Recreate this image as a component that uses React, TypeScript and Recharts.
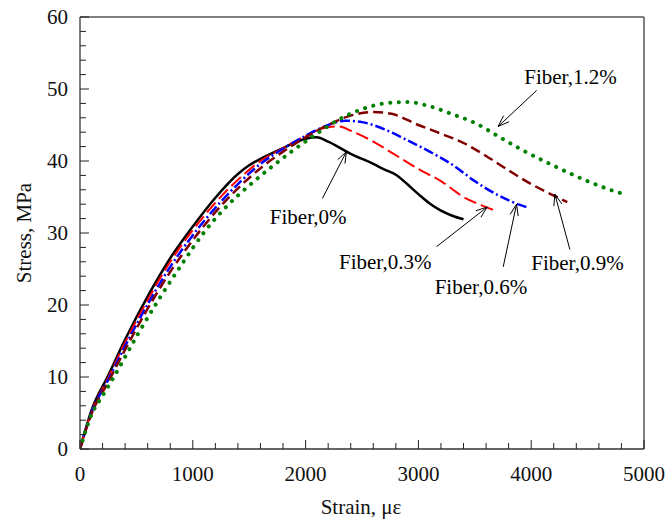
import { LineChart, Line, XAxis, YAxis, ReferenceLine, ReferenceDot } from "recharts";

// strain (με) and stress (MPa)
const strain0 = [0, 100, 250, 400, 600, 800, 1000, 1200, 1400, 1500, 1600, 1800, 2000, 2100, 2200, 2400, 2600, 2700, 2800, 2900, 3000, 3100, 3200, 3300, 3400];
const stress0 = [0, 5.3, 10.2, 15.2, 21.2, 26.5, 30.9, 34.9, 38.2, 39.4, 40.3, 41.8, 43.1, 43.3, 42.7, 41.0, 39.6, 38.8, 38.1, 36.8, 35.4, 34.1, 33.1, 32.4, 31.9];

const strain03 = [0, 100, 250, 400, 600, 800, 1000, 1200, 1400, 1600, 1800, 2000, 2200, 2300, 2400, 2600, 2800, 3000, 3200, 3400, 3600, 3700];
const stress03 = [0, 5.1, 9.9, 14.8, 20.7, 26.0, 30.4, 34.2, 37.4, 40.0, 41.8, 43.5, 44.7, 44.8, 44.2, 42.7, 40.8, 38.9, 37.2, 35.0, 33.6, 33.0];

const strain06 = [0, 100, 250, 400, 600, 800, 1000, 1200, 1400, 1600, 1800, 2000, 2200, 2350, 2500, 2700, 2900, 3100, 3300, 3500, 3700, 3900, 3980];
const stress06 = [0, 5.0, 9.6, 14.3, 20.1, 25.3, 29.7, 33.5, 36.8, 39.6, 41.7, 43.5, 45.0, 45.6, 45.4, 44.4, 42.9, 41.3, 39.5, 37.2, 35.3, 33.9, 33.5];

const strain09 = [0, 100, 250, 400, 600, 800, 1000, 1200, 1400, 1600, 1800, 2000, 2200, 2400, 2600, 2750, 3000, 3200, 3400, 3600, 3800, 4000, 4200, 4320];
const stress09 = [0, 4.8, 9.3, 13.8, 19.5, 24.6, 29.0, 32.9, 36.2, 39.0, 41.3, 43.3, 45.0, 46.3, 46.8, 46.6, 45.0, 43.8, 42.5, 40.7, 38.7, 36.8, 35.2, 34.3];

const strain12 = [0, 100, 200, 300, 500, 700, 900, 1100, 1300, 1500, 1700, 1900, 2100, 2300, 2500, 2700, 2900, 3100, 3300, 3500, 3700, 3900, 4100, 4300, 4500, 4700, 4820];
const stress12 = [0, 4.7, 7.4, 10.0, 15.6, 20.8, 25.6, 30.1, 33.7, 36.6, 39.2, 41.6, 43.8, 45.8, 47.2, 48.0, 48.2, 47.6, 46.5, 45.3, 43.5, 41.7, 40.1, 38.6, 37.2, 36.0, 35.4];

const xMajor = [0, 1000, 2000, 3000, 4000, 5000];
const yMajor = [0, 10, 20, 30, 40, 50, 60];

const toPoints = (xs: number[], ys: number[]) => xs.map((x, i) => ({ strain: x, stress: ys[i] }));

const series = [
  { name: "Fiber,0%", data: toPoints(strain0, stress0), color: "#000000", width: 2.5, dash: undefined, cap: "butt" },
  { name: "Fiber,0.3%", data: toPoints(strain03, stress03), color: "#ff0000", width: 2, dash: "13 5", cap: "butt" },
  { name: "Fiber,0.6%", data: toPoints(strain06, stress06), color: "#0000ff", width: 2.5, dash: "10 3 2 3", cap: "butt" },
  { name: "Fiber,0.9%", data: toPoints(strain09, stress09), color: "#800000", width: 2.5, dash: "10 5", cap: "butt" },
  { name: "Fiber,1.2%", data: toPoints(strain12, stress12), color: "#008000", width: 4, dash: "0.1 8.5", cap: "round" },
];

// annotation: label centre, arrow tail, arrow tip (data units)
const notes = [
  { text: "Fiber,0%", tx: 2023, ty: 32.2, x1: 2149, y1: 34.8, x2: 2362, y2: 41.3 },
  { text: "Fiber,0.3%", tx: 2706, ty: 26.0, x1: 3161, y1: 28.1, x2: 3610, y2: 33.6 },
  { text: "Fiber,0.6%", tx: 3554, ty: 22.5, x1: 3752, y1: 25.3, x2: 3870, y2: 34.0 },
  { text: "Fiber,0.9%", tx: 4410, ty: 25.9, x1: 4343, y1: 27.7, x2: 4210, y2: 35.4 },
  { text: "Fiber,1.2%", tx: 4348, ty: 51.7, x1: 4048, y1: 49.8, x2: 3707, y2: 44.8 },
];

const FONT = "'Liberation Serif', 'Times New Roman', serif";
const range = (a: number, b: number, s: number) => Array.from({ length: Math.round((b - a) / s) + 1 }, (_, i) => a + i * s);
const xTicks = range(0, 5000, 200);
const yTicks = range(0, 60, 2);

const XTick = (p: any) => {
  const v = p.payload.value;
  const major = xMajor.includes(v);
  return (
    <g>
      <line x1={p.x} x2={p.x} y1={p.y} y2={p.y - (major ? 9 : 6)} stroke="#222" strokeWidth={1} />
      {major && (
        <text x={p.x} y={p.y + 32} textAnchor="middle" fontFamily={FONT} fontSize={21} fill="#111">
          {v}
        </text>
      )}
    </g>
  );
};

const YTick = (p: any) => {
  const v = p.payload.value;
  const major = yMajor.includes(v);
  return (
    <g>
      <line x1={p.x} x2={p.x + (major ? 9 : 6)} y1={p.y} y2={p.y} stroke="#222" strokeWidth={1} />
      {major && (
        <text x={p.x - 12} y={p.y + 7} textAnchor="end" fontFamily={FONT} fontSize={21} fill="#111">
          {v}
        </text>
      )}
    </g>
  );
};

const Arrow = (p: any) => {
  const { x1, y1, x2, y2 } = p;
  const a = Math.atan2(y2 - y1, x2 - x1);
  const len = 12;
  const spread = 0.35;
  const h1x = x2 - len * Math.cos(a - spread);
  const h1y = y2 - len * Math.sin(a - spread);
  const h2x = x2 - len * Math.cos(a + spread);
  const h2y = y2 - len * Math.sin(a + spread);
  return (
    <g stroke="#000" strokeWidth={1} fill="none">
      <line x1={x1} y1={y1} x2={x2} y2={y2} />
      <polyline points={`${h1x},${h1y} ${x2},${y2} ${h2x},${h2y}`} />
    </g>
  );
};

const NoteText = (text: string) => (p: any) => (
  <text x={p.cx} y={p.cy + 7} textAnchor="middle" fontFamily={FONT} fontSize={21} fill="#000">
    {text}
  </text>
);

export default function App() {
  return (
    <div style={{ position: "absolute", left: 0, top: 0, background: "#fff" }}>
      <LineChart width={665} height={522} margin={{ top: 17, right: 21, left: 0, bottom: 0 }}>
        <XAxis
          dataKey="strain"
          type="number"
          domain={[0, 5000]}
          ticks={xTicks}
          interval={0}
          tickSize={0}
          tickMargin={0}
          tickLine={false}
          tick={XTick}
          height={73}
          axisLine={{ stroke: "#333", strokeWidth: 1.5 }}
          allowDataOverflow
          label={(p: any) => {
            const vb = p.viewBox;
            return (
              <text x={vb.x + vb.width / 2 - 1} y={vb.y + 65} textAnchor="middle" fontFamily={FONT} fontSize={21} fill="#111">
                Strain, με
              </text>
            );
          }}
        />
        <YAxis
          dataKey="stress"
          type="number"
          domain={[0, 60]}
          ticks={yTicks}
          interval={0}
          tickSize={0}
          tickMargin={0}
          tickLine={false}
          tick={YTick}
          width={80}
          axisLine={{ stroke: "#555", strokeWidth: 1.5 }}
          allowDataOverflow
          label={(p: any) => {
            const vb = p.viewBox;
            const cx = vb.x + 31;
            const cy = vb.y + vb.height / 2;
            return (
              <text x={cx} y={cy} transform={`rotate(-90 ${cx} ${cy})`} textAnchor="middle" fontFamily={FONT} fontSize={21} fill="#111">
                Stress, MPa
              </text>
            );
          }}
        />
        <ReferenceLine y={60} stroke="#555" strokeWidth={1.5} />
        <ReferenceLine x={5000} stroke="#555" strokeWidth={1.5} />
        {series.map((s) => (
          <Line
            key={s.name}
            data={s.data}
            dataKey="stress"
            name={s.name}
            type="monotone"
            stroke={s.color}
            strokeWidth={s.width}
            strokeDasharray={s.dash}
            strokeLinecap={s.cap as any}
            dot={false}
            activeDot={false}
            isAnimationActive={false}
          />
        ))}
        {notes.map((n) => (
          <ReferenceLine
            key={"a" + n.text}
            segment={[
              { x: n.x1, y: n.y1 },
              { x: n.x2, y: n.y2 },
            ]}
            shape={Arrow}
          />
        ))}
        {notes.map((n) => (
          <ReferenceDot key={"t" + n.text} x={n.tx} y={n.ty} r={0} shape={NoteText(n.text)} />
        ))}
      </LineChart>
    </div>
  );
}
